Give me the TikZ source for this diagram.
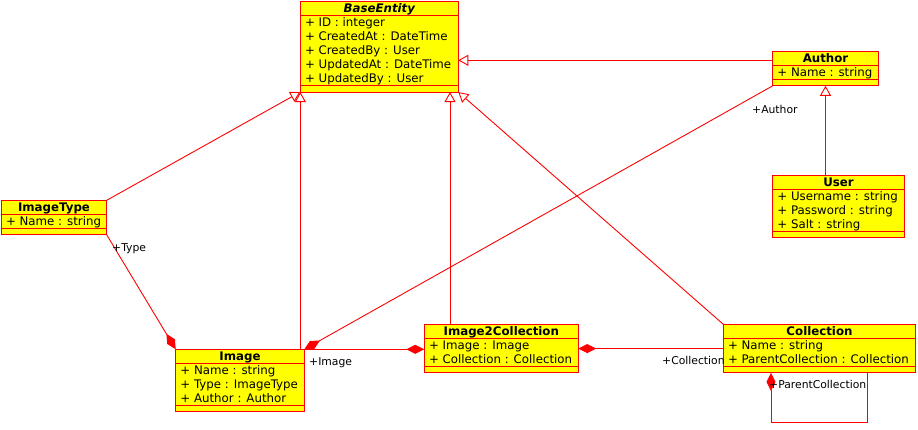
\documentclass[tikz,border=0pt]{standalone}
\usepackage{fontspec}
\setmainfont{DejaVu Sans}
\usetikzlibrary{arrows.meta}

\definecolor{umlred}{HTML}{FF0000}
\definecolor{umlyellow}{HTML}{FFFF00}

\tikzset{
  classframe/.style={draw=umlred, fill=umlyellow, line width=1pt, inner sep=0pt, outer sep=0pt},
  classrule/.style={draw=umlred, line width=1pt},
  classtitle/.style={font=\fontsize{11.8}{14}\selectfont\bfseries, inner sep=0pt},
  classattr/.style={font=\fontsize{11.8}{14}\selectfont, inner sep=0pt},
  inherit/.style={draw=umlred, line width=0.9pt, -{Triangle[length=10pt,width=11pt,fill=white]}},
  compose/.style={draw=umlred, line width=0.9pt, -{Diamond[length=18pt,width=9pt]}},
  role/.style={font=\fontsize{10.8}{13}\selectfont, inner sep=0pt, anchor=base west},
}

% name, left, top, width, rows, title, attributes
\newcommand{\umlclass}[7]{%
  \node[classframe, anchor=north west, minimum width=#4pt,
        minimum height={(#5+1)*14+6.5}] (#1) at (#2,#3) {};
  \draw[classrule] ([yshift=-14pt]#1.north west) -- ([yshift=-14pt]#1.north east);
  \draw[classrule] ([yshift=6.5pt]#1.south west) -- ([yshift=6.5pt]#1.south east);
  \node[classtitle, anchor=base] (#1-title) at ([yshift=-11pt]#1.north) {#6};
  \foreach \attr [count=\i] in {#7}
    \node[classattr, anchor=base west] (#1-attr\i)
      at ([xshift=4.5pt, yshift={-11pt-14pt*\i}]#1.north west) {\attr};
}

\begin{document}
\begin{tikzpicture}[x=1pt, y=-1pt]
    \useasboundingbox (0,0) rectangle (918,429);

    % classes
    \umlclass{base}{300.3}{1.5}{158}{5}{\itshape BaseEntity}
      {+ ID : integer, + CreatedAt : DateTime, + CreatedBy : User,
       + UpdatedAt : DateTime, + UpdatedBy : User}
    \umlclass{author}{772.7}{51.3}{105.6}{1}{Author}{+ Name : string}
    \umlclass{user}{772.7}{175.3}{131.6}{3}{User}
      {+ Username : string, + Password : string, + Salt : string}
    \umlclass{imgtype}{1.3}{200.3}{105.4}{1}{ImageType}{+ Name : string}
    \umlclass{image}{175.7}{349.3}{128.6}{3}{Image}
      {+ Name : string, + Type : ImageType, + Author : Author}
    \umlclass{i2c}{424.3}{324.3}{154}{2}{Image2Collection}
      {+ Image : Image, + Collection : Collection}
    \umlclass{coll}{723.3}{324.3}{192.4}{2}{Collection}
      {+ Name : string, + ParentCollection : Collection}

    % generalizations
    \draw[inherit] ([yshift=-9pt]author.north west) -- ([yshift=-9pt]author.north west -| base.east);
    \draw[inherit] (author.south |- user.north) -- (author.south);
    \draw[inherit] (imgtype.north east) -- (base.south west);
    \draw[inherit] (base.south west |- image.north) -- (base.south west);
    \draw[inherit] ([xshift=25.7pt]i2c.north west) -- ([xshift=25.7pt]i2c.north west |- base.south);
    \draw[inherit] (coll.north west) -- (base.south east);

    % compositions
    \draw[compose] (imgtype.south east) -- (image.north west);
    \draw[compose] (author.south west) -- (image.north east);
    \draw[compose] (image.north east) -- (i2c.west |- image.north east);
    \draw[compose] (coll.west) -- (i2c.east);
    \draw[compose] ([xshift=144pt]coll.south west) -- ++(0,49.5) -| ([xshift=47.7pt]coll.south west);

    % roles
    \node[role] (typerole) at (112,251.5) {+Type};
    \node[role] (authorrole) at (752,113) {+Author};
    \node[role] (imagerole) at (309,365) {+Image};
    \node[role] (collrole) at (662,364) {+Collection};
    \node[role] (parentrole) at (769,388.5) {+ParentCollection};
\end{tikzpicture}
\end{document}
